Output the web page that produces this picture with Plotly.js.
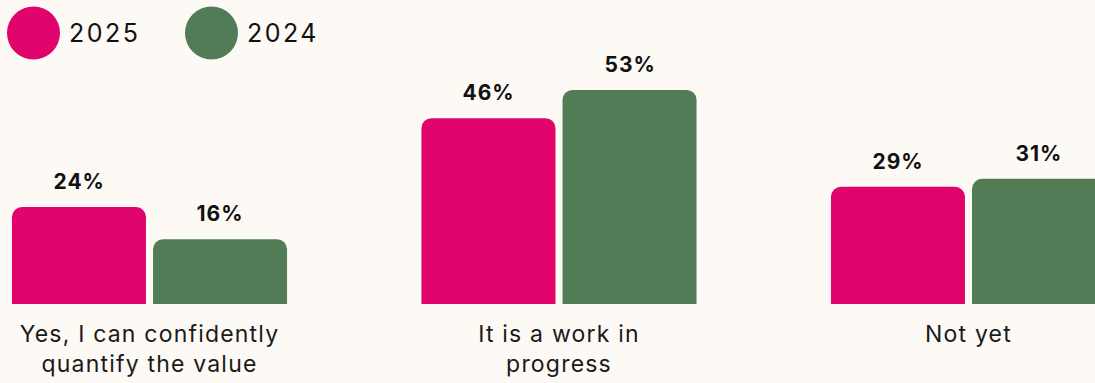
<!DOCTYPE html>
<html>
<head>
<meta charset="utf-8">
<script src="https://cdn.plot.ly/plotly-3.0.1.min.js"></script>
<style>
html,body{margin:0;padding:0;background:#fdf9f4;}
#chart{width:1095px;height:383px;}
#chart .xtick text{letter-spacing:1.2px;}
#chart .annotation-text{letter-spacing:1px;}
</style>
</head>
<body>
<div id="chart"></div>
<script>
// Data
const categories = ["Yes, I can confidently<br>quantify the value", "It is a work in<br>progress", "Not yet"];
const seriesNames = ["2025", "2024"];
const values2025 = [24, 46, 29];
const values2024 = [16, 53, 31];
const colors = ["#e0046c", "#517c56"];

const W = 1095, H = 383;
const mB = 79, plotH = H - mB;
const pxPerUnit = 4.04;
const yMax = plotH / pxPerUnit;

// x geometry
const pitch = 409.5;        // px per category
const firstCenter = 149.5;  // px of first group center
const x0 = -firstCenter / pitch;
const x1 = x0 + W / pitch;
const bargap = 0.311, bargroupgap = 0.05;
const groupW = 1 - bargap;
const slot = groupW / 2;
const offsets = [-slot / 2, slot / 2];

const xIdx = categories.map((c, i) => i);

const traces = [values2025, values2024].map((vals, s) => ({
  type: 'bar',
  name: seriesNames[s],
  x: xIdx,
  y: vals,
  marker: {color: colors[s], cornerradius: 10},
  hoverinfo: 'skip',
  showlegend: false
}));

const annotations = [];
[values2025, values2024].forEach((vals, s) => {
  vals.forEach((v, i) => {
    annotations.push({
      x: i + offsets[s], y: v, xref: 'x', yref: 'y',
      text: '<b>' + v + '%</b>', showarrow: false,
      yanchor: 'bottom', xanchor: 'center', yshift: 11,
      font: {family: 'Inter, sans-serif', size: 21, color: '#111111'}
    });
  });
});

// legend (circles + labels)
const shapes = [];
const legendCx = [33.5, 211.5];
const legendCy = 33;
seriesNames.forEach((n, s) => {
  const cx = legendCx[s] / W;
  const cy = (plotH - legendCy) / plotH;
  shapes.push({
    type: 'circle', xref: 'paper', yref: 'paper',
    xsizemode: 'pixel', ysizemode: 'pixel',
    xanchor: cx, yanchor: cy,
    x0: -26.5, x1: 26.5, y0: -26.5, y1: 26.5,
    fillcolor: colors[s], line: {width: 0}
  });
  annotations.push({
    x: (legendCx[s] + 33) / W, y: cy, xref: 'paper', yref: 'paper',
    text: '<span style="letter-spacing:2.5px">' + n + '</span>', showarrow: false, xanchor: 'left', yanchor: 'middle',
    font: {family: 'Inter, sans-serif', size: 25, color: '#111111'}
  });
});

const layout = {
  width: W, height: H,
  margin: {l: 0, r: 0, t: 0, b: mB, pad: 0},
  paper_bgcolor: '#fdf9f4',
  plot_bgcolor: '#fdf9f4',
  barmode: 'group',
  bargap: bargap,
  bargroupgap: bargroupgap,
  showlegend: false,
  xaxis: {
    range: [x0, x1],
    tickmode: 'array', tickvals: xIdx, ticktext: categories,
    showgrid: false, zeroline: false, showline: false, ticks: '',
    ticklabelstandoff: 14,
    tickfont: {family: 'Inter, sans-serif', size: 23, color: '#1a1a1a'}
  },
  yaxis: {
    range: [0, yMax], visible: false, showgrid: false, zeroline: false, fixedrange: true
  },
  shapes: shapes,
  annotations: annotations
};

Plotly.newPlot('chart', traces, layout, {displayModeBar: false, staticPlot: true});
</script>
</body>
</html>
